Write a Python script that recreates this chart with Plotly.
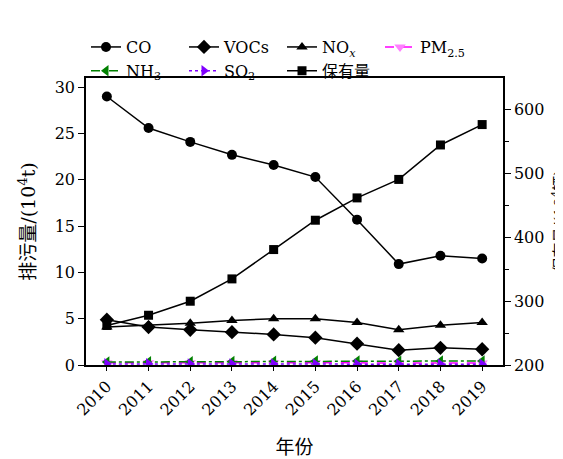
import plotly.graph_objects as go

years = ["2010", "2011", "2012", "2013", "2014", "2015", "2016", "2017", "2018", "2019"]
co = [29.0, 25.6, 24.1, 22.7, 21.6, 20.3, 15.7, 10.9, 11.8, 11.5]
vocs = [4.9, 4.1, 3.8, 3.55, 3.3, 2.95, 2.3, 1.6, 1.85, 1.7]
nox = [4.1, 4.3, 4.5, 4.8, 5.0, 5.0, 4.6, 3.8, 4.3, 4.6]
pm25 = [0.25, 0.25, 0.25, 0.26, 0.25, 0.25, 0.24, 0.22, 0.22, 0.22]
nh3 = [0.32, 0.34, 0.36, 0.38, 0.4, 0.42, 0.42, 0.4, 0.42, 0.44]
so2 = [0.12, 0.12, 0.11, 0.11, 0.1, 0.1, 0.09, 0.08, 0.08, 0.08]
vehicles = [262, 278, 300, 335, 381, 427, 462, 491, 545, 577]

FONT = "DejaVu Serif, Noto Sans CJK SC"

fig = go.Figure()

def add(name, y, symbol, color, dash, axis="y", mcolor=None, size=10):
    fig.add_trace(go.Scatter(
        x=years, y=y, name=name, mode="lines+markers", yaxis=axis,
        line=dict(color=color, width=1.5, dash=dash),
        marker=dict(symbol=symbol, size=size, color=mcolor or color),
    ))

add("CO", co, "circle", "black", "solid")
add("VOCs", vocs, "diamond", "black", "solid", size=11)
add("NO<sub><i>x</i></sub>", nox, "triangle-up", "black", "solid")
add("PM<sub>2.5</sub>", pm25, "triangle-down", "#ff00ff", "dash", mcolor="#ff80ff")
add("NH<sub>3</sub>", nh3, "triangle-left", "#008000", "dashdot")
add("SO<sub>2</sub>", so2, "triangle-right", "#8000ff", "dot")
add("保有量", vehicles, "square", "black", "solid", axis="y2", size=9)

fig.update_layout(
    width=563, height=459,
    margin=dict(l=78, r=68, t=70, b=83),
    paper_bgcolor="white", plot_bgcolor="white",
    font=dict(family=FONT, size=16, color="black"),
    showlegend=True,
    legend=dict(orientation="h", x=0, y=0.965, yanchor="bottom", xanchor="left",
                entrywidth=53, entrywidthmode="pixels", traceorder="normal",
                font=dict(size=16), bgcolor="rgba(0,0,0,0)", tracegroupgap=0),
    xaxis=dict(
        type="category", range=[-0.5, 9.5], tickangle=-45,
        showline=True, linecolor="black", linewidth=1.5, mirror=True,
        ticks="outside", ticklen=4, tickcolor="black",
        showgrid=False, zeroline=False,
        title=dict(text="年份", standoff=22),
    ),
    yaxis=dict(
        range=[0, 31], tickvals=[0, 5, 10, 15, 20, 25, 30],
        showline=True, linecolor="black", linewidth=1.5,
        ticks="outside", ticklen=6, tickcolor="black",
        showgrid=False, zeroline=False,
        title=dict(text="排污量/(10<sup>4</sup>t)", standoff=14),
    ),
    yaxis2=dict(
        range=[200, 650], tickvals=[200, 300, 400, 500, 600], overlaying="y", side="right",
        showline=True, linecolor="black", linewidth=1.5,
        ticks="outside", ticklen=6, tickcolor="black",
        minor=dict(tickvals=[250, 350, 450, 550], ticks="outside", ticklen=4, tickcolor="black"),
        showgrid=False, zeroline=False,
    ),
    annotations=[dict(text="保有量/(10<sup>4</sup>辆)", xref="paper", yref="paper",
                      x=1.132, y=0.5, xanchor="center", yanchor="middle",
                      textangle=-90, showarrow=False, font=dict(size=15))],
)

fig.write_html("out.html")
